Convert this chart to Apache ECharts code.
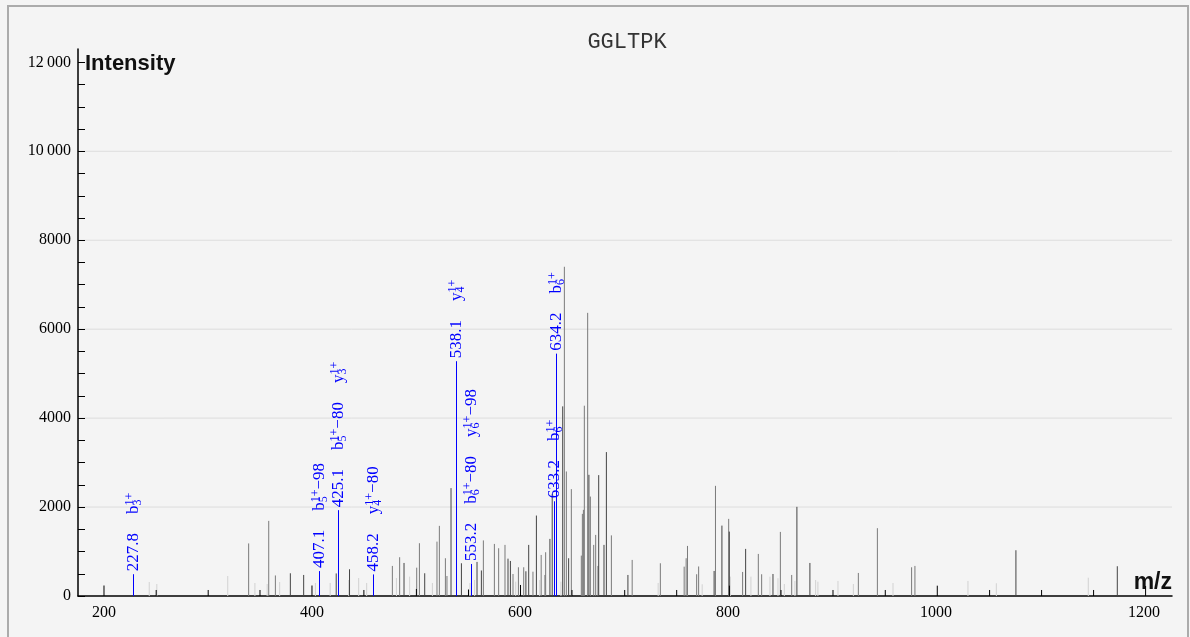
<!DOCTYPE html>
<html>
<head>
<meta charset="utf-8">
<title>GGLTPK</title>
<script src="https://cdn.jsdelivr.net/npm/echarts@6/dist/echarts.min.js"></script>
<style>
  html, body { margin: 0; padding: 0; background: #f4f4f4; }
  #chart { width: 1190px; height: 637px; }
</style>
</head>
<body>
<div id="chart"></div>
<script>
// Peptide and axis setup
const peptide = 'GGLTPK';
const xTickLabels = [200, 400, 600, 800, 1000, 1200];
const yTickLabels = [0, 2000, 4000, 6000, 8000, 10000, 12000];
const gridValues = [2000, 4000, 6000, 8000, 10000];
const mzRange = [175, 1227];
const intensityMax = 12300;

// Unassigned peaks, grouped by how strongly they are drawn: [m/z, intensity]
const blackPeaks = [
  [200.0, 236], [250.2, 135], [300.2, 135], [350.0, 135], [400.0, 236], [449.9, 135],
  [500.4, 158], [550.5, 146], [600.5, 248], [650.0, 135], [700.7, 135], [750.7, 135],
  [801.4, 232], [851.0, 135], [901.0, 135], [951.3, 135], [1001.3, 232], [1051.6, 135],
  [1101.6, 135], [1151.6, 135], [1201.6, 225]
];
const lightPeaks = [
  [243.5, 315], [250.8, 270], [319.0, 450], [345.1, 293], [356.9, 270], [368.9, 315],
  [403.3, 293], [417.5, 293], [435.3, 360], [444.9, 405], [452.6, 293], [481.2, 405],
  [493.9, 435], [515.8, 293], [551.9, 293], [556.4, 360], [595.9, 322], [619.0, 360],
  [639.4, 322], [732.9, 293], [775.2, 264], [802.3, 435], [822.1, 435], [840.4, 435],
  [848.1, 399], [854.2, 270], [864.4, 338], [884.3, 360], [886.5, 322], [905.8, 338],
  [920.6, 270], [958.7, 293], [1030.8, 338], [1058.1, 286], [1146.5, 412]
];
const grayPeaks = [
  [339.1, 1182], [358.4, 1689], [364.8, 462], [477.3, 676], [484.3, 872], [500.7, 637],
  [503.3, 1187], [520.2, 1223], [522.5, 1577], [528.3, 849], [529.8, 450], [564.8, 1250],
  [575.4, 1171], [579.5, 1074], [585.6, 1149], [593.3, 495], [598.5, 646], [603.6, 646],
  [612.5, 547], [620.4, 923], [624.0, 473], [624.7, 984], [642.7, 7403], [644.6, 2800],
  [649.4, 2403], [659.0, 908], [660.0, 1847], [661.0, 1937], [661.9, 4279], [665.1, 6367],
  [667.7, 2236], [670.9, 1149], [672.8, 1374], [675.0, 676], [687.9, 1363], [707.9, 811],
  [735.0, 736], [757.9, 660], [759.8, 849], [761.1, 1126], [769.9, 489], [771.8, 664],
  [788.0, 2477], [800.7, 1734], [814.1, 541], [829.2, 946], [832.4, 489], [850.4, 1441],
  [861.3, 473], [925.4, 518], [943.7, 1525], [976.6, 646], [979.8, 676]
];
const darkPeaks = [
  [379.2, 511], [392.0, 473], [423.3, 507], [436.1, 601], [488.5, 743], [508.4, 511],
  [533.7, 2426], [543.7, 736], [558.7, 766], [562.9, 574], [588.5, 840], [590.8, 788],
  [605.7, 556], [608.4, 1149], [615.8, 1809], [628.8, 1284], [631.0, 2300], [641.1, 4264],
  [646.8, 849], [666.3, 2725], [675.7, 2718], [680.8, 1149], [683.1, 3236], [703.8, 473],
  [786.7, 563], [794.2, 1583], [801.3, 1448], [817.0, 1059], [843.3, 495], [866.3, 2005],
  [878.8, 743], [1076.9, 1029], [1174.4, 669]
];

// Assigned fragment ions
const ionMz = [227.8, 407.1, 425.1, 458.2, 538.1, 553.2, 633.2, 634.2];
const ionIntensity = [490, 560, 1930, 485, 5280, 720, 2130, 5450];
const ionNames = [
  ['b_3^1+'],
  ['b_5^1+-98'],
  ['b_5^1+-80', 'y_3^1+'],
  ['y_4^1+-80'],
  ['y_4^1+'],
  ['b_6^1+-80', 'y_6^1+-98'],
  ['b_6^1+'],
  ['b_6^1+']
];

const SERIF = '"Liberation Serif", "DejaVu Serif", serif';
const ION_BLUE = '#0000ff';

// Turn "b_5^1+-98" into rich text: letter, stacked subscript/superscript, neutral loss
function ionRich(name) {
  const m = name.match(/^([a-z])_(\d+)\^([0-9+]+)(.*)$/);
  if (!m) return name;
  const loss = m[4] ? '{loss|' + m[4].replace('-', '\u2212') + '}' : '';
  return '{ion|' + m[1] + '}{sub|' + m[2] + '}{sup|' + m[3] + '}' + loss;
}

const ionLabelText = ionMz.map((mz, i) =>
  '{num|' + mz.toFixed(1) + '}{gap| }' + ionNames[i].map(ionRich).join('{gap| }')
);

const richStyles = {
  num: { fontSize: 17, fontFamily: SERIF, lineHeight: 20, verticalAlign: 'middle' },
  ion: { fontSize: 17, fontFamily: SERIF, lineHeight: 20, verticalAlign: 'middle' },
  loss: { fontSize: 17, fontFamily: SERIF, lineHeight: 20, verticalAlign: 'middle' },
  sub: { fontSize: 12, fontFamily: SERIF, lineHeight: 11, verticalAlign: 'bottom', width: 0 },
  sup: { fontSize: 12, fontFamily: SERIF, lineHeight: 11, verticalAlign: 'top' },
  gap: { fontSize: 17, fontFamily: SERIF, lineHeight: 20, width: 19 }
};

function stickSeries(name, data, color, z) {
  return {
    type: 'custom',
    name: name,
    data: data,
    silent: true,
    animation: false,
    z: z,
    encode: { x: 0, y: 1 },
    renderItem: function (params, api) {
      const base = api.coord([api.value(0), 0]);
      const top = api.coord([api.value(0), api.value(1)]);
      return {
        type: 'line',
        shape: { x1: base[0], y1: base[1], x2: top[0], y2: top[1] },
        style: { stroke: color, lineWidth: 1 }
      };
    }
  };
}

const chart = echarts.init(document.getElementById('chart'), null, { renderer: 'canvas' });

const yTickPositions = [];
for (let v = 0; v <= 12000; v += 500) yTickPositions.push(v);

function formatIntensity(v) {
  if (v >= 10000) {
    const s = String(v);
    return s.slice(0, s.length - 3) + '\u2009' + s.slice(s.length - 3);
  }
  return String(v);
}

chart.setOption({
  backgroundColor: '#f4f4f4',
  animation: false,
  title: {
    text: peptide,
    left: 622,
    top: 26,
    textAlign: 'center',
    textStyle: { fontFamily: '"Liberation Mono", "DejaVu Sans Mono", monospace', fontSize: 22, fontWeight: 'normal', color: '#333' }
  },
  grid: { left: 78, right: 18, top: 49, bottom: 41, containLabel: false },
  xAxis: {
    type: 'value',
    min: mzRange[0],
    max: mzRange[1],
    axisLine: { show: true, onZero: false, lineStyle: { color: '#000', width: 1.5 } },
    axisTick: { show: false },
    splitLine: { show: false },
    axisLabel: {
      customValues: xTickLabels,
      margin: 9,
      color: '#000',
      fontFamily: SERIF,
      fontSize: 16,
      formatter: function (v) { return String(v); }
    }
  },
  yAxis: {
    type: 'value',
    min: 0,
    max: intensityMax,
    axisLine: { show: true, lineStyle: { color: '#000', width: 1.5 } },
    axisTick: {
      show: true,
      inside: true,
      length: 7,
      customValues: yTickPositions,
      lineStyle: { color: '#000', width: 1 }
    },
    splitLine: { show: false },
    axisLabel: {
      customValues: yTickLabels,
      margin: 7,
      color: '#000',
      fontFamily: SERIF,
      fontSize: 16,
      formatter: formatIntensity
    }
  },
  graphic: [
    {
      type: 'rect',
      shape: { x: 8, y: 6, width: 1180, height: 640 },
      style: { fill: 'none', stroke: '#ababab', lineWidth: 2 },
      silent: true,
      z: -10
    },
    {
      type: 'text',
      x: 85,
      y: 64,
      style: { text: 'Intensity', font: 'bold 22px "Liberation Sans", Arial, sans-serif', fill: '#111', textAlign: 'left', textVerticalAlign: 'middle' },
      silent: true
    },
    {
      type: 'text',
      x: 1172,
      y: 594,
      style: { text: 'm/z', font: 'bold 23px "Liberation Sans", Arial, sans-serif', fill: '#111', textAlign: 'right', textVerticalAlign: 'bottom' },
      silent: true
    }
  ],
  series: [
    {
      type: 'custom',
      name: 'grid',
      data: gridValues,
      silent: true,
      z: 0,
      encode: { y: 0 },
      renderItem: function (params, api) {
        const y = api.coord([mzRange[0], api.value(0)])[1];
        const cs = params.coordSys;
        return {
          type: 'line',
          shape: { x1: cs.x, y1: y, x2: cs.x + cs.width, y2: y },
          style: { stroke: '#dddddd', lineWidth: 1 }
        };
      }
    },
    stickSeries('light', lightPeaks, '#d2d2d2', 1),
    stickSeries('gray', grayPeaks, '#7a7a7a', 2),
    stickSeries('dark', darkPeaks, '#444444', 3),
    stickSeries('black', blackPeaks, '#000000', 4),
    {
      type: 'custom',
      name: 'ions',
      data: ionMz.map((mz, i) => [mz, ionIntensity[i]]),
      silent: true,
      z: 5,
      encode: { x: 0, y: 1 },
      renderItem: function (params, api) {
        const base = api.coord([api.value(0), 0]);
        const top = api.coord([api.value(0), api.value(1)]);
        // keep the assigned-ion sticks on whole pixels so they stay crisp blue
        const x = Math.round(base[0]) + 0.5;
        return {
          type: 'group',
          children: [
            {
              type: 'line',
              shape: { x1: x, y1: base[1], x2: x, y2: top[1] },
              style: { stroke: ION_BLUE, lineWidth: 1 }
            },
            {
              type: 'text',
              x: x,
              y: top[1] - 3,
              rotation: Math.PI / 2,
              style: {
                text: ionLabelText[params.dataIndex],
                rich: richStyles,
                fill: ION_BLUE,
                font: '17px ' + SERIF,
                align: 'left',
                verticalAlign: 'middle'
              }
            }
          ]
        };
      }
    }
  ]
});
</script>
</body>
</html>
